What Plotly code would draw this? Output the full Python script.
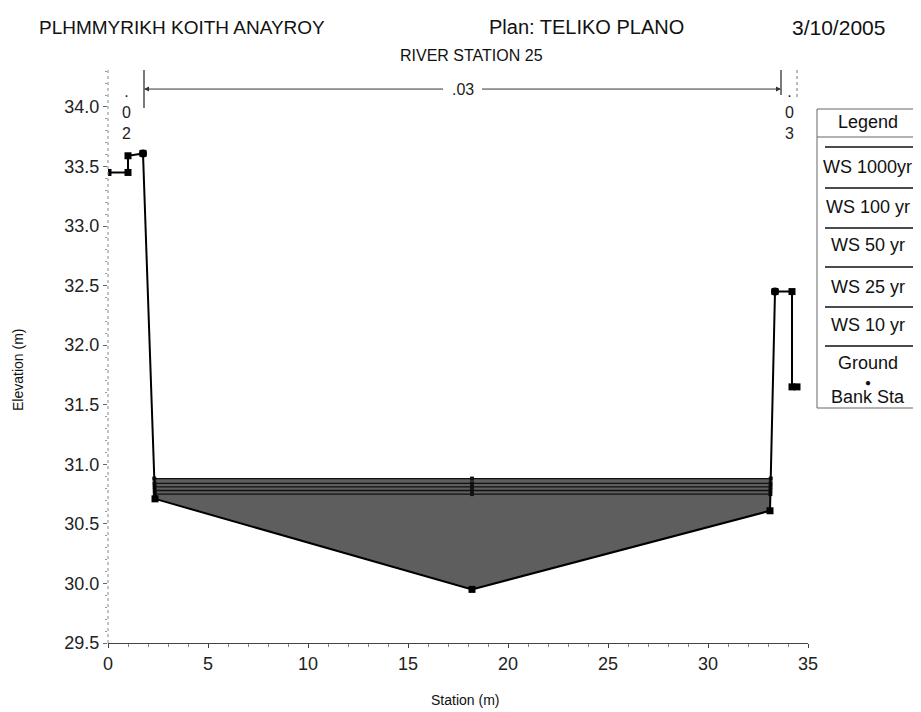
import numpy as np
import plotly.graph_objects as go

# cross section geometry
ground_sta = [0.0, 1.0, 1.0, 1.75, 2.35, 18.2, 33.1, 33.35, 34.2, 34.2, 34.45]
ground_elev = [33.45, 33.45, 33.59, 33.61, 30.71, 29.95, 30.61, 32.45, 32.45, 31.65, 31.65]
bank_sta = [1.75, 33.35]
bank_elev = [33.61, 32.45]

ws_names = ['WS 1000yr', 'WS 100 yr', 'WS 50 yr', 'WS 25 yr', 'WS 10 yr']
ws_elev = [30.88, 30.84, 30.81, 30.78, 30.75]

# manning's n change stations and values
n_sta = [0.0, 1.8, 33.65, 34.45]
n_vals = ['.02', '.03', '.03']

FONT = 'Liberation Sans, Arial, sans-serif'
OFF = 8  # the page body margin
W, H = 921 - OFF, 712 - OFF
PL, PR, PT, PB = 108, 808, 70, 643  # plot area in page pixels


def px(x):
    return (x - PL) / (PR - PL)


def py(y):
    return (PB - y) / (PB - PT)


def wet_limits(level):
    sta = np.array(ground_sta)
    elev = np.array(ground_elev)
    low = int(np.argmin(elev))
    i = low
    while elev[i - 1] < level:
        i -= 1
    left = np.interp(level, [elev[i], elev[i - 1]], [sta[i], sta[i - 1]])
    j = low
    while elev[j + 1] < level:
        j += 1
    right = np.interp(level, [elev[j], elev[j + 1]], [sta[j], sta[j + 1]])
    return left, right, i, j


def label(fig, x, y, text, size, xanchor='center', **kw):
    fig.add_annotation(xref='paper', yref='paper', x=px(x), y=py(y), text=text,
                       xanchor=xanchor, yanchor='middle', showarrow=False,
                       font=dict(family=FONT, size=size, color='#111'), **kw)


def paper_line(fig, x0, y0, x1, y1, **line):
    fig.add_shape(type='line', xref='paper', yref='paper', x0=px(x0), x1=px(x1),
                  y0=py(y0), y1=py(y1), line=line)


def build_figure():
    fig = go.Figure()

    # water fill under highest profile
    top = max(ws_elev)
    xl, xr, i0, i1 = wet_limits(top)
    poly_x = [xl] + ground_sta[i0:i1 + 1] + [xr, xl]
    poly_y = [top] + ground_elev[i0:i1 + 1] + [top, top]
    fig.add_trace(go.Scatter(
        x=poly_x, y=poly_y, fill='toself', mode='lines',
        fillcolor='#5e5e5e', line=dict(width=0, color='#5e5e5e'),
        showlegend=False, hoverinfo='skip',
    ))

    mid = ground_sta[int(np.argmin(ground_elev))]
    for name, level in zip(ws_names, ws_elev):
        xl, xr, i0, i1 = wet_limits(level)
        fig.add_trace(go.Scatter(
            x=[xl, mid, xr], y=[level] * 3, mode='lines+markers', name=name,
            line=dict(color='#111111', width=1.3),
            marker=dict(symbol='square', size=4, color='#111111'),
            showlegend=False,
        ))

    fig.add_trace(go.Scatter(
        x=ground_sta, y=ground_elev, mode='lines+markers', name='Ground',
        line=dict(color='black', width=2),
        marker=dict(symbol='square', size=7, color='black'),
        showlegend=False,
    ))
    fig.add_trace(go.Scatter(
        x=bank_sta, y=bank_elev, mode='markers', name='Bank Sta',
        marker=dict(symbol='circle', size=8, color='black'),
        showlegend=False,
    ))

    # manning's n brackets above the section
    y_top, y_arrow = 34.31, 34.15
    fig.add_shape(type='line', x0=n_sta[1], x1=n_sta[1], y0=y_top, y1=33.99,
                  line=dict(color='#222', width=1.2))
    fig.add_shape(type='line', x0=n_sta[2], x1=n_sta[2], y0=y_top, y1=34.10,
                  line=dict(color='#222', width=1.2))
    fig.add_shape(type='line', x0=n_sta[3], x1=n_sta[3], y0=y_top, y1=34.06,
                  line=dict(color='#777', width=1, dash='dot'))
    centre = (n_sta[1] + n_sta[2]) / 2
    for end, start in [(n_sta[1], centre - 0.9), (n_sta[2], centre + 0.9)]:
        fig.add_annotation(x=end, y=y_arrow, ax=start, ay=y_arrow, axref='x', ayref='y',
                           text='', showarrow=True, arrowhead=2, arrowsize=1,
                           arrowwidth=1, arrowcolor='#333')
    fig.add_annotation(x=centre, y=y_arrow, text=n_vals[1], showarrow=False,
                       font=dict(family=FONT, size=16, color='#222'))
    for k in (0, 2):
        mid_n = (n_sta[k] + n_sta[k + 1]) / 2
        txt = '<br>'.join(list(n_vals[k]))
        fig.add_annotation(x=mid_n, y=py(81), yref='paper', xanchor='center', yanchor='top',
                           text=txt, showarrow=False,
                           font=dict(family=FONT, size=16, color='#222'))

    # dotted left axis
    fig.add_shape(type='line', xref='paper', yref='paper', x0=0, x1=0, y0=0, y1=1,
                  line=dict(color='#888', width=1, dash='dot'))

    # titles
    label(fig, 37, 27, 'PLHMMYRIKH KOITH ANAYROY', 19, xanchor='left')
    label(fig, 487, 27, 'Plan: TELIKO PLANO', 20, xanchor='left')
    label(fig, 887, 27, '3/10/2005', 21, xanchor='right')
    label(fig, 471, 55, 'RIVER STATION 25', 16)
    label(fig, 465, 700, 'Station (m)', 14)
    label(fig, 18, 370, 'Elevation (m)', 14, textangle=-90)

    # hand drawn legend box like HEC-RAS, running off the right edge
    box = dict(color='#666', width=1)
    paper_line(fig, 817, 109, 817, 408, **box)
    paper_line(fig, 817, 109, 930, 109, **box)
    paper_line(fig, 817, 408, 930, 408, **box)
    paper_line(fig, 817, 137, 930, 137, **box)
    label(fig, 868, 122, 'Legend', 18)
    entries = ws_names + ['Ground']
    line_y = [147, 188, 228, 267, 307, 346]
    text_y = [167, 207, 245, 287, 325, 363]
    for name, ly, ty in zip(entries, line_y, text_y):
        paper_line(fig, 825, ly, 913, ly, color='#111', width=1.5)
        label(fig, 868, ty, name, 18)
    label(fig, 868, 382, '●', 10)
    label(fig, 868, 397, 'Bank Sta', 18)

    fig.update_layout(
        width=W, height=H,
        margin=dict(l=PL - OFF, r=W - (PR - OFF), t=PT - OFF, b=H - (PB - OFF),
                    autoexpand=False),
        paper_bgcolor='white', plot_bgcolor='white',
        font=dict(family=FONT, color='#222'),
        showlegend=False,
    )
    fig.update_xaxes(
        range=[0, 35], dtick=5, showgrid=False, zeroline=False, automargin=False,
        showline=True, linecolor='#444', linewidth=1,
        ticks='outside', ticklen=4, tickcolor='#444',
        minor=dict(dtick=1, ticks='outside', ticklen=3, tickcolor='#888'),
        tickfont=dict(family=FONT, size=18, color='#222'),
    )
    fig.update_yaxes(
        range=[29.5, 34.31], dtick=0.5, tickformat='.1f', showgrid=False, zeroline=False,
        automargin=False, showline=False, ticks='outside', ticklen=4, tickcolor='#666',
        minor=dict(dtick=0.1, ticks='outside', ticklen=2, tickcolor='#999'),
        tickfont=dict(family=FONT, size=18, color='#222'),
    )
    return fig


def main():
    fig = build_figure()
    fig.write_html('out.html')


if __name__ == '__main__':
    main()
